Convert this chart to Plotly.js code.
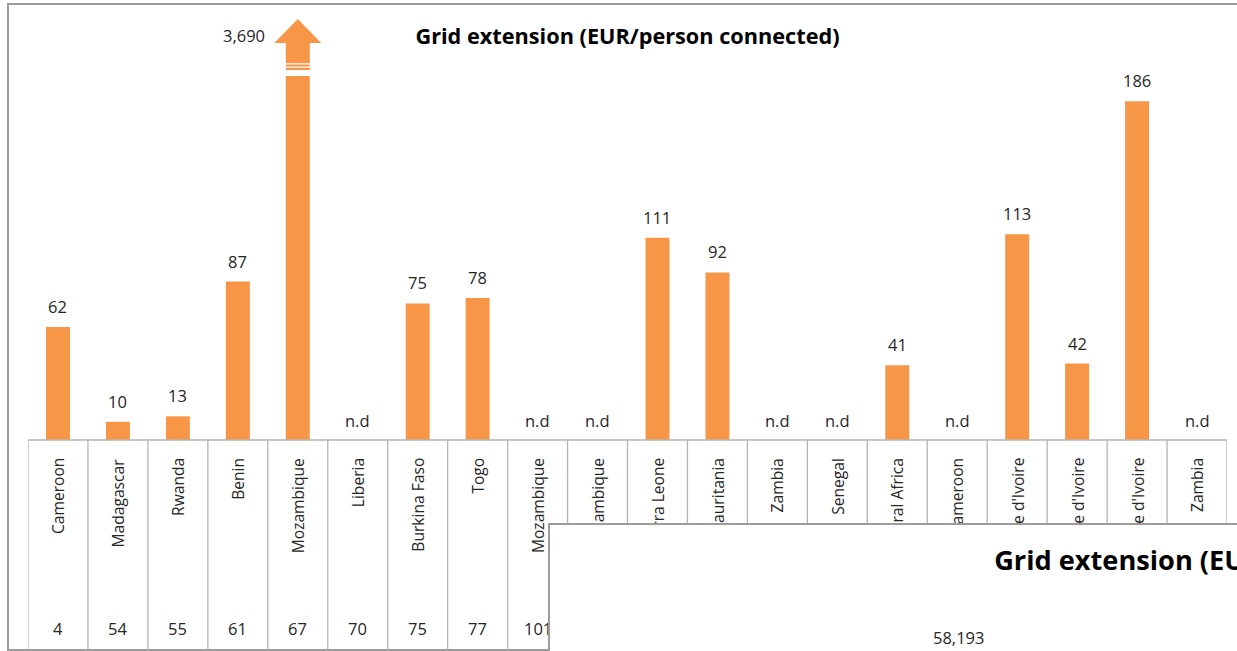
<!DOCTYPE html>
<html>
<head>
<meta charset="utf-8">
<script src="https://cdn.plot.ly/plotly-3.0.1.min.js"></script>
<style>
html, body { margin:0; padding:0; overflow:hidden; background:#ffffff; width:1237px; height:651px; }
#main { position:absolute; left:0; top:0; width:1237px; height:651px; }
#inset { position:absolute; left:548px; top:523px; width:1424px; height:400px; box-sizing:border-box; border:2px solid #9c9c9c; background:#ffffff; }
</style>
</head>
<body>
<div id="main"></div>
<div id="inset"></div>
<script>
// ---- data ----
const categories = ['Cameroon','Madagascar','Rwanda','Benin','Mozambique','Liberia','Burkina Faso','Togo','Mozambique','Mozambique','Sierra Leone','Mauritania','Zambia','Senegal','Central Africa','Cameroon',"Côte d'Ivoire","Côte d'Ivoire","Côte d'Ivoire",'Zambia'];
const rankNumbers = [4, 54, 55, 61, 67, 70, 75, 77, 101, null, null, null, null, null, null, null, null, null, null, null];
const costValues = [62, 10, 13, 87, 3690, null, 75, 78, null, null, 111, 92, null, null, 41, null, 113, 42, 186, null];
const missingLabel = 'n.d';
const chartTitle = 'Grid extension (EUR/person connected)';
const insetTitle = 'Grid extension (EUR/person connected)';
const insetValues = [58193];

// ---- layout constants ----
const W = 1237, H = 651;
const M = {l: 28, r: 10, t: 43, b: 211};
const plotH = H - M.t - M.b;           // 397
const plotW = W - M.l - M.r;           // 1199
const yMax = 218;
const barColor = '#F79646';
const gridGray = '#b4b4b4';
const frameGray = '#9c9c9c';
const textColor = '#262626';
const FONT = 'Open Sans, DejaVu Sans, sans-serif';
const fmt = v => v.toLocaleString('en-US');
const pxToPaperY = py => (M.t + plotH - py) / plotH;
const pxToPaperX = px => (px - M.l) / plotW;

const idx = categories.map((_, i) => i);

const trace = {
  type: 'bar',
  x: idx,
  y: costValues,
  marker: {color: barColor, line: {width: 0}},
  cliponaxis: true,
  hoverinfo: 'skip'
};

const shapes = [];
const annotations = [];

// outer chart frame
shapes.push({type:'rect', xref:'paper', yref:'paper',
  x0: pxToPaperX(8), x1: pxToPaperX(1300), y0: pxToPaperY(650), y1: pxToPaperY(4),
  line:{color: frameGray, width: 2}, fillcolor:'rgba(0,0,0,0)', layer:'below'});

// category table: baseline + separators
shapes.push({type:'line', xref:'x', yref:'paper', x0:-0.5, x1: categories.length - 0.5, y0:0, y1:0,
  line:{color: gridGray, width:1.3}});
for (let i = 0; i <= categories.length; i++) {
  shapes.push({type:'line', xref:'x', yref:'paper', x0: i - 0.5, x1: i - 0.5,
    y0: 0, y1: pxToPaperY(650), line:{color: gridGray, width:1.3}});
}

const labelFont = {family: FONT, size: 16.5, color: textColor};

categories.forEach((c, i) => {
  annotations.push({xref:'x', yref:'paper', x: i, y: pxToPaperY(456), yanchor:'top', xanchor:'center',
    text: c, textangle: -90, showarrow:false, font:{family: FONT, size: 15.6, color: textColor}});
  if (rankNumbers[i] !== null) {
    annotations.push({xref:'x', yref:'paper', x: i, y: pxToPaperY(628), yanchor:'middle', xanchor:'center',
      text: fmt(rankNumbers[i]), showarrow:false, font: labelFont});
  }
  const v = costValues[i];
  if (v === null) {
    annotations.push({xref:'x', yref:'y', x: i, y: 0, yanchor:'bottom', xanchor:'center', yshift: 6,
      text: missingLabel, showarrow:false, font: labelFont});
  } else if (v > yMax) {
    // broken (off-scale) bar: label beside arrow head
    annotations.push({xref:'x', yref:'paper', x: i, y: pxToPaperY(35), yanchor:'middle', xanchor:'right', xshift: -31,
      text: fmt(v), showarrow:false, font: labelFont});
    // break gap and stripes
    shapes.push({type:'rect', xref:'x', yref:'paper', xsizemode:'pixel', ysizemode:'pixel', xanchor: i, yanchor: 1,
      x0:-14, x1:14, y0:-27, y1:-33, fillcolor:'#ffffff', line:{width:0}, layer:'above'});
    shapes.push({type:'rect', xref:'x', yref:'paper', xsizemode:'pixel', ysizemode:'pixel', xanchor: i, yanchor: 1,
      x0:-14, x1:14, y0:-20.3, y1:-21.5, fillcolor:'#ffffff', line:{width:0}, layer:'above'});
    shapes.push({type:'rect', xref:'x', yref:'paper', xsizemode:'pixel', ysizemode:'pixel', xanchor: i, yanchor: 1,
      x0:-14, x1:14, y0:-23.5, y1:-24.7, fillcolor:'#ffffff', line:{width:0}, layer:'above'});
    // arrow head
    shapes.push({type:'path', xref:'x', yref:'paper', xsizemode:'pixel', ysizemode:'pixel', xanchor: i, yanchor: 1,
      path:'M -23.5,0 L 0,24 L 23.5,0 Z', fillcolor: barColor, line:{width:0}, layer:'above'});
  } else {
    annotations.push({xref:'x', yref:'y', x: i, y: v, yanchor:'bottom', xanchor:'center', yshift: 7,
      text: fmt(v), showarrow:false, font: labelFont});
  }
});

const layout = {
  width: W, height: H,
  margin: M,
  paper_bgcolor: 'rgba(0,0,0,0)',
  plot_bgcolor: 'rgba(0,0,0,0)',
  showlegend: false,
  bargap: 0.6,
  title: {text: '<b>' + chartTitle + '</b>', x: 0.5, xref: 'paper', xanchor: 'center',
    y: 1 - 36/H, yref: 'container', yanchor: 'middle',
    font: {family: FONT, size: 21.7, color: '#000'}},
  xaxis: {range: [-0.5, categories.length - 0.5], showticklabels: false, showgrid: false, zeroline: false,
    showline: false, ticks: '', fixedrange: true},
  yaxis: {range: [0, yMax], visible: false, showgrid: false, zeroline: false, fixedrange: true},
  shapes: shapes,
  annotations: annotations
};

Plotly.newPlot('main', [trace], layout, {displayModeBar: false, staticPlot: true});

// ---- overlapping second chart ----
const insetW = 1424, insetH = 400;
const insetLayout = {
  width: insetW - 4, height: insetH - 4,
  margin: {l:0, r:0, t:0, b:0},
  paper_bgcolor: '#ffffff', plot_bgcolor: '#ffffff',
  showlegend: false,
  title: {text: '<b>' + insetTitle + '</b>', x: 0.5, xref: 'container', xanchor: 'center',
    y: 1 - 35/(insetH - 4), yref: 'container', yanchor: 'middle',
    font: {family: FONT, size: 27.2, color: '#000'}},
  xaxis: {visible: false, range: [0, 1]},
  yaxis: {visible: false, range: [0, 1]},
  annotations: insetValues.map(v => ({xref:'paper', yref:'paper', x: 408/(insetW - 4), y: 1 - 112/(insetH - 4),
    xanchor:'center', yanchor:'middle', text: fmt(v), showarrow:false,
    font:{family: FONT, size: 16.5, color: textColor}}))
};
Plotly.newPlot('inset', [], insetLayout, {displayModeBar: false, staticPlot: true});
</script>
</body>
</html>
